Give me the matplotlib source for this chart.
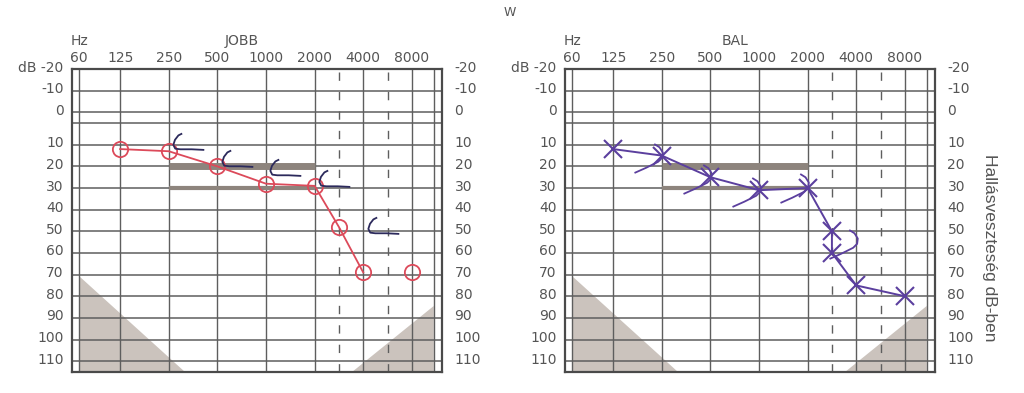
import numpy as np
import matplotlib
matplotlib.use("Agg")
import matplotlib.pyplot as plt
from matplotlib.path import Path
from matplotlib.transforms import ScaledTranslation

# form layout
FREQ_LABELS = ["60", "125", "250", "500", "1000", "2000", "4000", "8000"]
FREQ_TICKS = [60, 125, 250, 500, 1000, 2000, 4000, 8000]
DB_TICKS = [-20, -10, 0, 10, 20, 30, 40, 50, 60, 70, 80, 90, 100, 110]

# JOBB - air conduction (red circles)
jobb_air_freq = [125, 250, 500, 1000, 2000, 3000, 4000]
jobb_air_db = [12, 13, 20, 28, 29, 48, 69]
jobb_air_single_freq = [8000]
jobb_air_single_db = [69]
# JOBB - bone conduction
jobb_bone_freq = [250, 500, 1000, 2000, 4000]
jobb_bone_db = [10, 18, 22, 27, 49]

# BAL - air conduction (purple crosses)
bal_air_freq = [125, 250, 500, 1000, 2000, 3000, 3000, 4000, 8000]
bal_air_db = [12, 15, 25, 31, 30, 50, 60, 75, 80]
# BAL - bone conduction
bal_bone_freq = [250, 500, 1000, 2000, 4000]
bal_bone_db = [15, 25, 31, 29, 55]

# grey speech band bars
band_freq = [250, 2000]
band_db = [20, 30]

# position of each frequency on the form (octaves from 125 Hz)
POS = {60: -0.84, 125: 0, 250: 1, 500: 2, 1000: 3, 2000: 4,
       3000: 4.5, 4000: 5, 6000: 5.5, 8000: 6}


def xp(freqs):
    return [POS[f] for f in freqs]


# dB axis: form has an extra 5 dB gap below the 0 line
def fwd(d):
    d = np.asarray(d, dtype=float)
    return np.where(d <= 0, d, np.where(d >= 10, d + 5, d * 1.5))


def inv(v):
    v = np.asarray(v, dtype=float)
    return np.where(v <= 0, v, np.where(v >= 15, v - 5, v / 1.5))


# markers
C_MARK = Path([(0.45, 0.95), (0.15, 0.8), (-0.12, 0.45), (-0.25, 0.05),
               (-0.1, -0.25), (0.3, -0.3), (1.2, -0.3), (2.2, -0.35)])
GT_MARK = Path([(-0.4, 0.95), (0.0, 0.7), (0.25, 0.3), (0.2, -0.1),
                (-0.1, -0.4), (-1.0, -0.85), (-1.9, -1.25)])

GRID = "#5e5e5e"
TEXT = "#555555"
SHADE = "#cbc3bd"
BAR = "#8d847d"
RED = "#dc4a5a"
NAVY = "#2c2a5c"
PURPLE = "#5b3f9e"

plt.rcParams['font.family'] = ['DejaVu Sans']

fig = plt.figure(figsize=(10.24, 3.93), dpi=100)


def draw_form(ax, title):
    ax.set_yscale('function', functions=(fwd, inv))
    ax.set_xlim(-0.99, 6.62)
    ax.set_ylim(115, -20)

    # non audible regions
    ax.fill([-0.84, -0.84, 1.34], [70.5, 115, 115], color=SHADE, lw=0, zorder=0)
    ax.fill([4.77, 6.45, 6.45], [115, 84.5, 115], color=SHADE, lw=0, zorder=0)

    for d in DB_TICKS[1:]:
        ax.axhline(d, color=GRID, lw=1.1, zorder=1)
    ax.axhline(float(inv(5)), color=GRID, lw=1.1, zorder=1)
    for f in FREQ_TICKS:
        ax.axvline(POS[f], color=GRID, lw=1.0, zorder=1)
    ax.axvline(6.45, color=GRID, lw=1.0, zorder=1)
    for f in [3000, 6000]:
        ax.axvline(POS[f], color=GRID, lw=1.0, ls=(0, (6, 8)), zorder=1)

    ax.hlines(band_db[0], POS[band_freq[0]], POS[band_freq[1]], color=BAR, lw=5, zorder=2)
    ax.hlines(band_db[1], POS[band_freq[0]], POS[band_freq[1]], color=BAR, lw=3, zorder=2)

    for s in ax.spines.values():
        s.set_color("#4a4a4a")
        s.set_linewidth(1.6)

    ax.set_xticks([POS[f] for f in FREQ_TICKS])
    ax.set_xticklabels(FREQ_LABELS)
    ax.xaxis.set_ticks_position('top')
    ax.tick_params(axis='x', length=0, pad=3, labelsize=10, colors=TEXT)

    ax.set_yticks(DB_TICKS)
    ax.set_yticklabels(["dB -20"] + [str(d) for d in DB_TICKS[1:]])
    ax.tick_params(axis='y', length=0, pad=6, labelsize=10, colors=TEXT)
    ax.yaxis.set_minor_locator(plt.NullLocator())

    ax2 = ax.twinx()
    ax2.set_yscale('function', functions=(fwd, inv))
    ax2.set_ylim(115, -20)
    ax2.set_yticks(DB_TICKS)
    ax2.set_yticklabels([str(d) for d in DB_TICKS])
    ax2.yaxis.set_minor_locator(plt.NullLocator())
    ax2.tick_params(axis='y', length=0, pad=9, labelsize=10, colors=TEXT)
    for s in ax2.spines.values():
        s.set_visible(False)

    up = ScaledTranslation(0, 3 / 100, fig.dpi_scale_trans)
    for lab in ax.get_yticklabels() + ax2.get_yticklabels():
        lab.set_transform(lab.get_transform() + up)

    ax.annotate("Hz", xy=(POS[60], 1), xycoords=('data', 'axes fraction'),
                xytext=(0, 20.5), textcoords='offset points', ha='center', va='center',
                fontsize=10, color=TEXT)
    ax.annotate(title, xy=(2.5, 1), xycoords=('data', 'axes fraction'),
                xytext=(0, 20.5), textcoords='offset points', ha='center', va='center',
                fontsize=10, color=TEXT)
    return ax


ax_j = draw_form(fig.add_axes([72 / 1024, 21 / 393, 370 / 1024, 303 / 393]), "JOBB")
ax_b = draw_form(fig.add_axes([565 / 1024, 21 / 393, 370 / 1024, 303 / 393]), "BAL")

# JOBB
ax_j.plot(xp(jobb_air_freq), jobb_air_db, color=RED, lw=1.3, marker='o', ms=11,
          mfc='none', mew=1.3, zorder=4)
ax_j.plot(xp(jobb_air_single_freq), jobb_air_single_db, ls='none', color=RED,
          marker='o', ms=11, mfc='none', mew=1.3, zorder=4)
ax_j.plot(np.array(xp(jobb_bone_freq)) + 0.15, jobb_bone_db, ls='none', color=NAVY,
          marker=C_MARK, ms=40, mfc='none', mew=1.3, zorder=5)

# BAL
ax_b.plot(xp(bal_air_freq), bal_air_db, color=PURPLE, lw=1.4, marker='x', ms=13,
          mew=1.5, zorder=4)
ax_b.plot(np.array(xp(bal_bone_freq)) - 0.05, bal_bone_db, ls='none', color=PURPLE,
          marker=GT_MARK, ms=36, mfc='none', mew=1.3, zorder=5)

fig.text(510 / 1024, 1 - 12 / 393, "W", fontsize=9, color=TEXT, ha='center', va='center')
fig.text(990 / 1024, 1 - 248 / 393, "Hallásveszteség dB-ben", rotation=270,
         fontsize=12.5, color=TEXT, ha='center', va='center', family='Liberation Sans')

fig.savefig("out.png", dpi=100, facecolor='white')
